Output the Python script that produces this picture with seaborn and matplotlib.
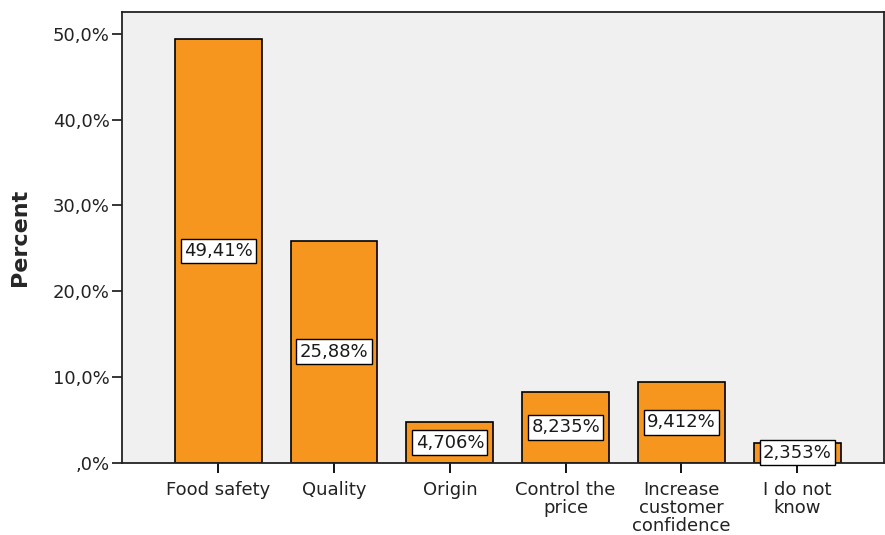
import pandas as pd
import matplotlib
matplotlib.use("Agg")
import matplotlib.pyplot as plt
import seaborn as sns

categories = ["Food safety", "Quality", "Origin", "Control the\nprice",
              "Increase\ncustomer\nconfidence", "I do not\nknow"]
percents = [49.41, 25.88, 4.706, 8.235, 9.412, 2.353]
value_labels = ["49,41%", "25,88%", "4,706%", "8,235%", "9,412%", "2,353%"]
y_ticks = [0, 10, 20, 30, 40, 50]
y_tick_labels = [",0%", "10,0%", "20,0%", "30,0%", "40,0%", "50,0%"]

df = pd.DataFrame({"Reason": categories, "Percent": percents})

sns.set_style("ticks")
plt.rcParams["font.family"] = ["DejaVu Sans"]

fig = plt.figure(figsize=(8.85, 5.35), dpi=100)
ax = fig.add_axes([0.138, 0.135, 0.861, 0.843])
ax.set_facecolor("#F0F0F0")

sns.barplot(x="Reason", y="Percent", data=df, color="#F7961E", width=0.75,
            edgecolor="black", linewidth=1.2, saturation=1, ax=ax)

# value boxes in the middle of each bar
for i, (v, lab) in enumerate(zip(percents, value_labels)):
    ax.text(i, v / 2, lab, ha="center", va="center", fontsize=13, color="#1a1a1a",
            bbox=dict(boxstyle="square,pad=0.18", facecolor="white", edgecolor="black", linewidth=1))

ax.set_xlim(-0.83, 5.75)
ax.set_ylim(0, 52.56)
ax.set_yticks(y_ticks)
ax.set_yticklabels(y_tick_labels, fontsize=13, color="#222222")
ax.set_xticks(range(len(categories)))
ax.set_xticklabels(categories, fontsize=13, color="#222222", linespacing=1.0)
ax.tick_params(axis="x", colors="black", labelcolor="#222222", length=7, width=1.3, pad=6)
ax.tick_params(axis="y", length=7, width=1.3, pad=2)
ax.set_xlabel("")
ax.set_ylabel("Percent", fontsize=16, fontweight="bold")
ax.yaxis.set_label_coords(-0.121, 0.5)
for s in ax.spines.values():
    s.set_linewidth(1.3)
    s.set_color("#222222")

fig.savefig("out.png", dpi=100)
